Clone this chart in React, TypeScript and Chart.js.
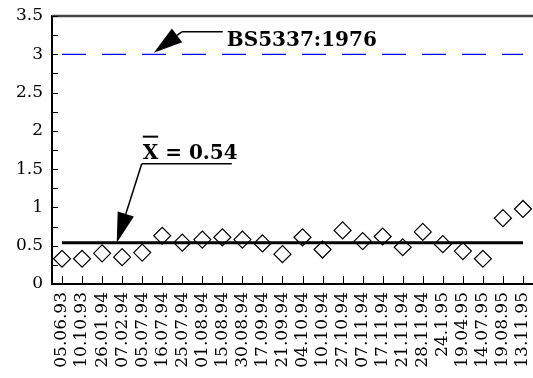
import React, { useEffect, useRef } from "react";
import { Chart, registerables } from "chart.js";

Chart.register(...registerables);

const dates = [
  "05.06.93", "10.10.93", "26.01.94", "07.02.94", "05.07.94", "16.07.94",
  "25.07.94", "01.08.94", "15.08.94", "30.08.94", "17.09.94", "21.09.94",
  "04.10.94", "10.10.94", "27.10.94", "07.11.94", "17.11.94", "21.11.94",
  "28.11.94", "24.1.95", "19.04.95", "14.07.95", "19.08.95", "13.11.95",
];

const measured = [
  0.33, 0.33, 0.4, 0.35, 0.41, 0.63, 0.54, 0.58, 0.61, 0.58, 0.53, 0.39,
  0.61, 0.45, 0.7, 0.56, 0.62, 0.48, 0.68, 0.52, 0.43, 0.33, 0.86, 0.98,
];

const meanValue = 0.54;
const limitValue = 3;
const limitLabel = "BS5337:1976";
const meanLabel = "X = 0.54";
const yTickValues = [0, 0.25, 0.5, 0.75, 1, 1.25, 1.5, 1.75, 2, 2.25, 2.5, 2.75, 3, 3.25, 3.5];

const FONT = "'DejaVu Serif', 'Liberation Serif', serif";

function arrow(ctx: CanvasRenderingContext2D, fx: number, fy: number, tx: number, ty: number, len: number, half: number) {
  const dx = fx - tx;
  const dy = fy - ty;
  const d = Math.hypot(dx, dy);
  const ux = dx / d;
  const uy = dy / d;
  const bx = tx + ux * len;
  const by = ty + uy * len;
  ctx.beginPath();
  ctx.moveTo(fx, fy);
  ctx.lineTo(bx, by);
  ctx.stroke();
  ctx.beginPath();
  ctx.moveTo(tx, ty);
  ctx.lineTo(bx - uy * half, by + ux * half);
  ctx.lineTo(bx + uy * half, by - ux * half);
  ctx.closePath();
  ctx.fill();
}

const decorPlugin = {
  id: "decor",
  afterDatasetsDraw(chart: any) {
    const { ctx, chartArea, scales } = chart;
    const x = scales.x;
    const y = scales.y;
    ctx.save();
    // top frame
    ctx.strokeStyle = "#444";
    ctx.lineWidth = 2.5;
    ctx.beginPath();
    ctx.moveTo(chartArea.left, chartArea.top);
    ctx.lineTo(chartArea.right, chartArea.top);
    ctx.stroke();
    // inner ticks
    ctx.strokeStyle = "#000";
    ctx.lineWidth = 1;
    yTickValues.forEach((v) => {
      const py = Math.round(y.getPixelForValue(v)) + 0.5;
      ctx.beginPath();
      ctx.moveTo(chartArea.left, py);
      ctx.lineTo(chartArea.left + 6, py);
      ctx.stroke();
    });
    dates.forEach((_, i) => {
      const px = Math.round(x.getPixelForValue(i)) + 0.5;
      ctx.beginPath();
      ctx.moveTo(px, chartArea.bottom);
      ctx.lineTo(px, chartArea.bottom - 8);
      ctx.stroke();
    });

    const step = x.getPixelForValue(1) - x.getPixelForValue(0);
    const xAt = (i: number) => x.getPixelForValue(0) + i * step;

    ctx.fillStyle = "#000";
    ctx.strokeStyle = "#000";
    ctx.lineWidth = 1.5;

    // BS limit annotation
    const t1x = xAt(4.58);
    const t1y = y.getPixelForValue(limitValue) - 1.5;
    const e1x = t1x + 28;
    const e1y = t1y - 21;
    arrow(ctx, e1x, e1y, t1x, t1y, 29, 8.5);
    ctx.beginPath();
    ctx.moveTo(e1x, e1y);
    ctx.lineTo(e1x + 41, e1y);
    ctx.stroke();
    ctx.font = `bold 20px ${FONT}`;
    ctx.textBaseline = "alphabetic";
    ctx.textAlign = "left";
    ctx.fillText(limitLabel, e1x + 45, e1y + 14);

    // mean annotation
    const t2x = xAt(2.73);
    const t2y = y.getPixelForValue(meanValue);
    const e2x = t2x + 25;
    const e2y = t2y - 79;
    arrow(ctx, e2x, e2y, t2x, t2y, 30, 8.5);
    ctx.beginPath();
    ctx.moveTo(e2x, e2y);
    ctx.lineTo(e2x + 90, e2y);
    ctx.stroke();
    const baseY = e2y - 5;
    ctx.fillText(meanLabel, e2x + 1, baseY);
    const xw = ctx.measureText(meanLabel.charAt(0)).width;
    ctx.lineWidth = 2;
    ctx.beginPath();
    ctx.moveTo(e2x + 1, baseY - 22);
    ctx.lineTo(e2x + 1 + xw, baseY - 22);
    ctx.stroke();
    ctx.restore();
  },
};

export default function App() {
  const ref = useRef<HTMLCanvasElement | null>(null);
  useEffect(() => {
    document.body.style.margin = "0";
    const canvas = ref.current;
    if (!canvas) return;
    const chart = new Chart(canvas, {
      type: "line",
      data: {
        labels: dates,
        datasets: [
          {
            data: measured,
            showLine: false,
            pointStyle: "rectRot",
            pointRadius: 8.5,
            pointBorderColor: "#000",
            pointBackgroundColor: "rgba(0,0,0,0)",
            pointBorderWidth: 1.2,
            order: 0,
          },
          {
            data: dates.map(() => meanValue),
            borderColor: "#000",
            borderWidth: 3,
            pointRadius: 0,
            order: 1,
          },
          {
            data: dates.map(() => limitValue),
            borderColor: "#0000ff",
            borderWidth: 1.3,
            borderDash: [24, 16],
            pointRadius: 0,
            order: 2,
          },
        ],
      },
      options: {
        responsive: false,
        animation: false,
        layout: { autoPadding: false, padding: { top: 16, right: 0, left: 0, bottom: 0 } },
        plugins: { legend: { display: false }, tooltip: { enabled: false } },
        scales: {
          x: {
            offset: true,
            grid: { display: false, drawTicks: false },
            border: { color: "#000", width: 2 },
            afterFit: (s: any) => {
              s.height = 94;
              s.paddingLeft = 0;
              s.paddingRight = 0;
            },
            ticks: {
              autoSkip: false,
              minRotation: 90,
              maxRotation: 90,
              padding: 8,
              color: "#000",
              font: { family: FONT, size: 17 },
            },
          },
          y: {
            min: 0,
            max: 3.5,
            afterFit: (s: any) => {
              s.width = 52;
              s.paddingTop = 0;
              s.paddingBottom = 0;
            },
            afterBuildTicks: (s: any) => { s.ticks = yTickValues.map((v) => ({ value: v })); },
            grid: { display: false, drawTicks: false },
            border: { color: "#000", width: 2 },
            ticks: {
              autoSkip: false,
              padding: 9,
              color: "#000",
              font: { family: FONT, size: 17 },
              callback: (v: any) => (Math.abs((v * 2) - Math.round(v * 2)) < 1e-6 ? String(v) : ""),
            },
          },
        },
      },
      plugins: [decorPlugin],
    } as any);
    return () => chart.destroy();
  }, []);
  return (
    <div style={{ position: "fixed", left: 0, top: 0, width: 533, height: 378 }}>
      <canvas ref={ref} width={533} height={378} />
    </div>
  );
}
